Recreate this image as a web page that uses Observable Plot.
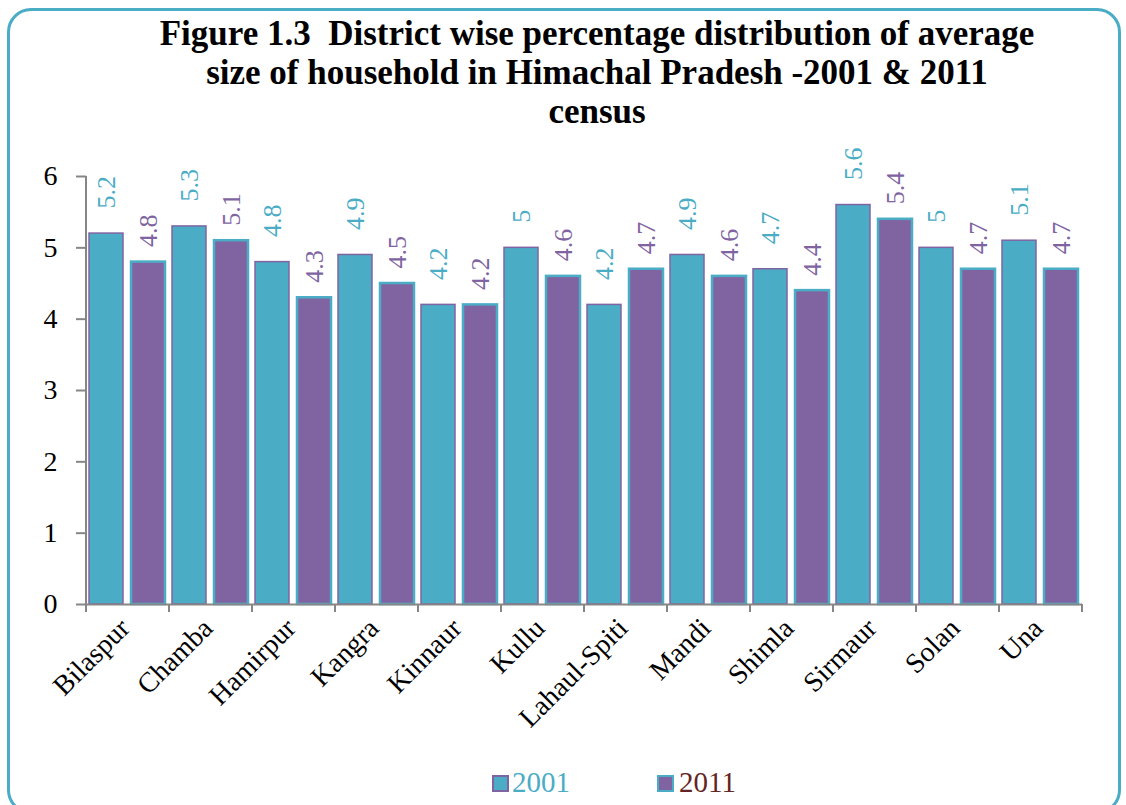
<!DOCTYPE html>
<html>
<head>
<meta charset="utf-8">
<script src="https://cdn.jsdelivr.net/npm/d3@7"></script>
<script src="https://cdn.jsdelivr.net/npm/@observablehq/plot@0.6"></script>
<style>
  html, body { margin: 0; padding: 0; background: #fff; }
  #wrap { position: relative; width: 1126px; height: 805px; overflow: hidden; font-family: "Liberation Serif", "Times New Roman", serif; }
  #border { position: absolute; left: 7px; top: 8px; width: 1114px; height: 806px; box-sizing: border-box; border: 3px solid #4bacc6; border-radius: 24px; }
  #title { position: absolute; top: 14px; left: 0; width: 1194px; text-align: center; font-weight: bold; font-size: 35px; line-height: 39px; color: #000; }
  #chart { position: absolute; left: 0; top: 140px; }
  #legend { position: absolute; top: 762px; left: 0; width: 1126px; font-size: 29px; }
  .sw { position: absolute; width: 13px; height: 13px; top: 13px; }
  .lt { position: absolute; top: 0; line-height: 40px; }
  #chart svg text { font-variant: normal !important; font-variant-numeric: normal !important; }
</style>
</head>
<body>
<div id="wrap">
  <div id="border"></div>
  <div id="title">Figure 1.3&nbsp; District wise percentage distribution of average<br>size of household in Himachal Pradesh -2001 &amp; 2011<br>census</div>
  <div id="chart"></div>
  <div id="legend">
    <div class="sw" style="left:492px; background:#4bacc6; border:2px solid #8064a2;"></div>
    <div class="lt" style="left:512px; color:#4bacc6;">2001</div>
    <div class="sw" style="left:657px; background:#8064a2; border:2px solid #4bacc6;"></div>
    <div class="lt" style="left:679px; color:#632523;">2011</div>
  </div>
</div>
<script>
const districts = ["Bilaspur", "Chamba", "Hamirpur", "Kangra", "Kinnaur", "Kullu", "Lahaul-Spiti", "Mandi", "Shimla", "Sirmaur", "Solan", "Una"];
const years = ["2001", "2011"];
const values2001 = [5.2, 5.3, 4.8, 4.9, 4.2, 5, 4.2, 4.9, 4.7, 5.6, 5, 5.1];
const values2011 = [4.8, 5.1, 4.3, 4.5, 4.2, 4.6, 4.7, 4.6, 4.4, 5.4, 4.7, 4.7];
const yTicks = [0, 1, 2, 3, 4, 5, 6];

const teal = "#4bacc6";
const purple = "#8064a2";
const grey = "#868686";

const d2001 = districts.map((d, i) => ({district: d, year: "2001", value: values2001[i]}));
const d2011 = districts.map((d, i) => ({district: d, year: "2011", value: values2011[i]}));

const plot = Plot.plot({
  width: 1126,
  height: 600,
  marginTop: 36,
  marginBottom: 136,
  marginLeft: 84,
  marginRight: 43,
  style: {fontFamily: "'Liberation Serif', 'Times New Roman', serif", fontSize: "28px", background: "transparent", overflow: "visible"},
  fx: {domain: districts, padding: 0, label: null},
  x: {domain: years, paddingInner: 0.19, paddingOuter: 0.08, axis: null},
  y: {domain: [0, 6], axis: null},
  marks: [
    Plot.barY(d2001, {fx: "district", x: "year", y: "value", fill: teal, stroke: purple, strokeWidth: 1.5}),
    Plot.barY(d2011, {fx: "district", x: "year", y: "value", fill: purple, stroke: teal, strokeWidth: 2.5}),
    Plot.text(d2001, {fx: "district", x: "year", y: "value", text: d => String(d.value), rotate: -90, textAnchor: "start", dy: -25, fill: teal, fontSize: 26, fontVariant: "normal"}),
    Plot.text(d2011, {fx: "district", x: "year", y: "value", text: d => String(d.value), rotate: -90, textAnchor: "start", dy: -15, fill: purple, fontSize: 26, fontVariant: "normal"}),
    Plot.ruleY([0], {stroke: grey, strokeWidth: 2}),
    Plot.axisY({ticks: yTicks, tickSize: 10, tickPadding: 19, stroke: grey, strokeWidth: 2, fill: "black", tickFormat: d => String(d), fontSize: 28, fontVariant: "normal", label: null}),
    Plot.axisFx({anchor: "bottom", tickSize: 0, tickPadding: 19, tickRotate: -45, fill: "black", label: null, fontSize: 28, dx: -3})
  ]
});

// axis lines and category boundary ticks, placed with the plot's own scales
const fx = plot.scale("fx");
const y = plot.scale("y");
const svg = d3.select(plot);
const g = svg.append("g").attr("stroke", grey).attr("stroke-width", 2);
const y0 = y.apply(0), y6 = y.apply(6);
const bounds = districts.map(d => fx.apply(d)).concat([fx.apply(districts[districts.length - 1]) + fx.bandwidth]);
g.append("line").attr("x1", bounds[0]).attr("x2", bounds[0]).attr("y1", y6).attr("y2", y0);
bounds.forEach(b => {
  g.append("line").attr("x1", b).attr("x2", b).attr("y1", y0).attr("y2", y0 + 8);
});

document.getElementById("chart").appendChild(plot);
</script>
</body>
</html>
